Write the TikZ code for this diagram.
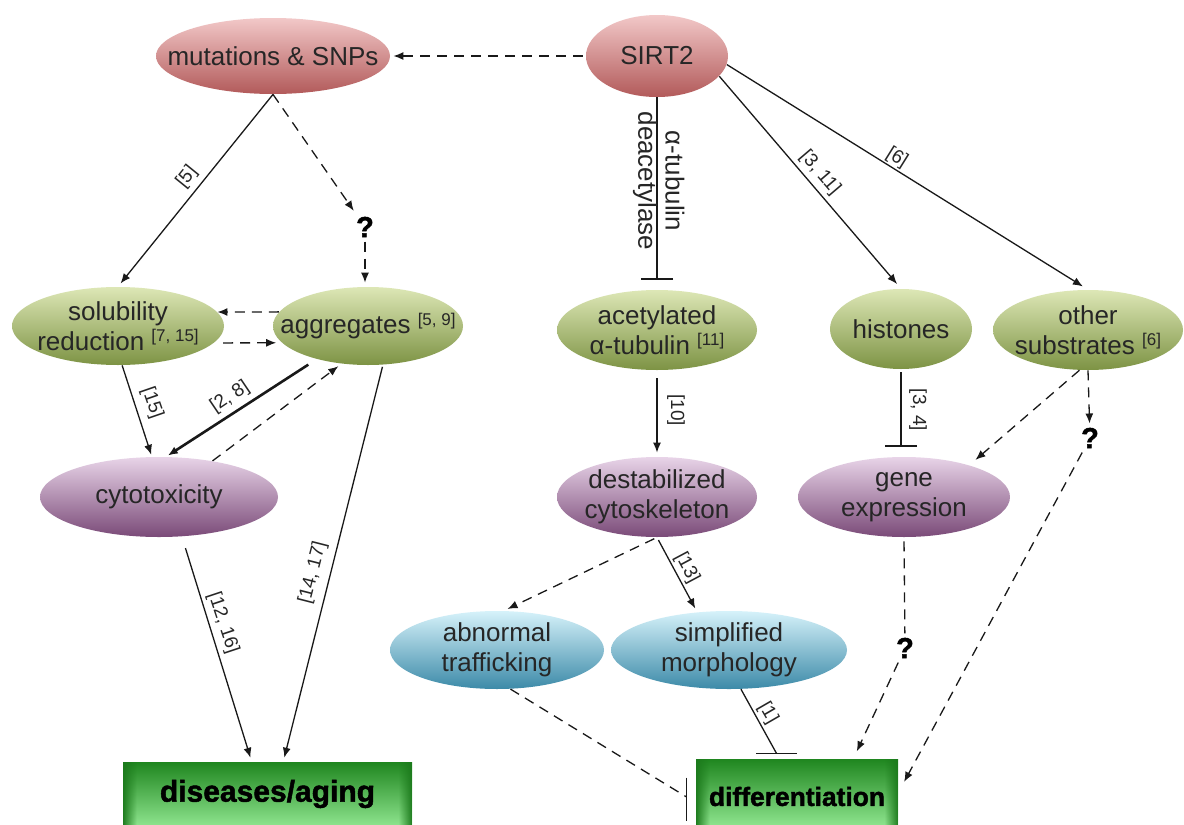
\documentclass[tikz,border=0pt]{standalone}
\usepackage{fontspec}
\setmainfont{Liberation Sans}
\newfontfamily\heavyfont{Liberation Sans Bold}[FakeBold=1.6]
\usetikzlibrary{shapes.geometric,arrows.meta,calc,fadings}
\definecolor{txt}{HTML}{262626}
\definecolor{rA}{HTML}{F2C8C8}\definecolor{rB}{HTML}{DC9494}\definecolor{rC}{HTML}{B25A5A}
\definecolor{gA}{HTML}{DDE7B6}\definecolor{gB}{HTML}{B5C87E}\definecolor{gC}{HTML}{7D9344}
\definecolor{pA}{HTML}{E8D4E8}\definecolor{pB}{HTML}{B892B6}\definecolor{pC}{HTML}{7A4A78}
\definecolor{bA}{HTML}{D6F2FA}\definecolor{bB}{HTML}{96D2E6}\definecolor{bC}{HTML}{3C8AA8}
\definecolor{xA}{HTML}{1F861F}\definecolor{xB}{HTML}{4CC84C}\definecolor{xC}{HTML}{8EE48E}
\definecolor{xE}{HTML}{1C7A1C}
\tikzfading[name=fadeR, left color=transparent!0, right color=transparent!100]
\tikzfading[name=fadeL, left color=transparent!100, right color=transparent!0]
\newcommand\mainsz{\fontsize{13}{15}\selectfont}
\newcommand\sref[1]{\raisebox{0.62ex}{\fontsize{8.5}{9}\selectfont[#1]}}
\begin{document}
\begin{tikzpicture}[x=0.5pt,y=-0.5pt,
  ell/.style={ellipse,draw=none,inner sep=0pt},
  ered/.style={ell,top color=rA,middle color=rB,bottom color=rC},
  egrn/.style={ell,top color=gA,middle color=gB,bottom color=gC},
  eprp/.style={ell,top color=pA,middle color=pB,bottom color=pC},
  eblu/.style={ell,top color=bA,middle color=bB,bottom color=bC},
  every label/.style={font=\mainsz,align=center,text=txt,inner sep=0pt},
  gbox/.style={rectangle,draw=none,top color=xA,middle color=xB,bottom color=xC,inner sep=0pt,text=black},
  lab/.style={font=\fontsize{9.5}{10}\selectfont,inner sep=0pt,text=txt},
  qst/.style={font=\fontsize{14.5}{15}\heavyfont,inner sep=2pt,text=black},
  ln/.style={line width=0.65pt,draw=black!90},
  arr/.style={ln,-{Latex[length=5pt,width=4pt]}},
  dsh/.style={dash pattern=on 5pt off 3.5pt},
  inh/.style={ln,-{Bar[width=16pt]}}
]
\useasboundingbox[fill=white] (0,0) rectangle (1184,825);

% nodes
\node[ered,minimum width=117pt,minimum height=38pt,label=center:mutations \& SNPs] (mut) at (273,56) {};
\node[ered,minimum width=71pt,minimum height=41pt,label=center:SIRT2] (sirt) at (657,56) {};
\node[egrn,minimum width=106pt,minimum height=39pt,label={center:solubility\\reduction \sref{7, 15}}] (sol) at (118,326) {};
\node[egrn,minimum width=95pt,minimum height=39pt,label={center:aggregates \sref{5, 9}}] (agg) at (368,326) {};
\node[egrn,minimum width=100pt,minimum height=40pt,label={center:acetylated\\α-tubulin \sref{11}}] (acet) at (657,330) {};
\node[egrn,minimum width=71pt,minimum height=40pt,label=center:histones] (hist) at (901,329) {};
\node[egrn,minimum width=95pt,minimum height=40pt,label={center:other\\substrates \sref{6}}] (other) at (1088,330) {};
\node[eprp,minimum width=119pt,minimum height=40pt,label=center:cytotoxicity] (cyto) at (159,497) {};
\node[eprp,minimum width=100pt,minimum height=40pt,label={center:destabilized\\cytoskeleton}] (destab) at (657,497) {};
\node[eprp,minimum width=106pt,minimum height=40pt,label={center:gene\\expression}] (gene) at (904,497) {};
\node[eblu,minimum width=107pt,minimum height=39pt,label={center:abnormal\\trafficking}] (abn) at (497,650) {};
\node[eblu,minimum width=118pt,minimum height=39pt,label={center:simplified\\morphology}] (simp) at (729,650) {};

\node[gbox,minimum width=144.5pt,minimum height=32pt] (dis) at (267.5,794) {};
\node[gbox,minimum width=101pt,minimum height=33.5pt] (diff) at (797,792.5) {};
\fill[xE,path fading=fadeR] (dis.north west) rectangle ($(dis.south west)+(14,0)$);
\fill[xE,path fading=fadeL] ($(dis.north east)+(-14,0)$) rectangle (dis.south east);
\fill[xE,path fading=fadeR] (diff.north west) rectangle ($(diff.south west)+(14,0)$);
\fill[xE,path fading=fadeL] ($(diff.north east)+(-14,0)$) rectangle (diff.south east);
\node[font=\fontsize{15}{16}\heavyfont,text=black,inner sep=0pt] (dist) at (dis) {diseases/aging};
\node[font=\fontsize{13.2}{14}\heavyfont,text=black,inner sep=0pt] (difft) at ($(diff)+(0,4)$) {differentiation};

\node[qst] (q1) at (365,227) {?};
\node[qst] (q2) at (1090,438) {?};
\node[qst] (q3) at (905,648) {?};

% SIRT2 edges
\draw[arr,dsh,shorten <=1.5pt,shorten >=1.5pt] (sirt) -- (mut);
\draw[inh,shorten >=5pt] (sirt.south) -- (acet.north);
\node[font=\mainsz,text=txt,rotate=-90,inner sep=0pt] (lt1) at (675,181) {α-tubulin};
\node[font=\mainsz,text=txt,rotate=-90,inner sep=0pt] (lt2) at (645,181) {deacetylase};
\draw[arr,shorten >=3pt] (sirt.-18) -- (hist.north);
\node[lab,rotate=-49.6] (l311) at (820,173) {[3, 11]};
\draw[arr,shorten >=3pt] (sirt.-7) -- (other.north);
\node[lab,rotate=-32] (l6) at (897,158) {[6]};

% mutations edges
\draw[arr,shorten >=2pt] (mut.south) -- (sol.north);
\node[lab,rotate=51] (l5) at (187,177) {[5]};
\draw[arr,dsh,shorten >=1pt] (mut.south) -- (q1);
\draw[arr,dsh,shorten >=2pt] (q1) -- (q1 |- agg.north);

% solubility / aggregates
\draw[arr,dsh] (agg.171) -- (sol.8);
\draw[arr,dsh,shorten <=4.5pt,shorten >=2.75pt] (sol.-10) -- (agg.191);
\draw[arr,shorten >=1pt] (sol.-84) -- (cyto.100);
\node[lab,rotate=-71] (l15) at (152,403) {[15]};
\draw[arr,line width=1.3pt,shorten <=5pt,shorten >=1pt] (agg) -- (cyto.80);
\node[lab,rotate=34] (l28) at (230,397) {[2, 8]};
\draw[arr,dsh,shorten >=2pt] (cyto.34) -- (agg.235);
\draw[arr,shorten <=6pt,shorten >=2pt] (cyto.-60) -- (dis.116);
\node[lab,rotate=-71.6] (l1216) at (223,623) {[12, 16]};
\draw[arr,shorten <=1pt,shorten >=2pt] (agg.-69) -- (dis.64);
\node[lab,rotate=75.7] (l1417) at (313,573) {[14, 17]};

% tubulin branch
\draw[arr,shorten <=4pt,shorten >=2pt] (acet.south) -- (destab.north);
\node[lab,rotate=-90] (l10) at (676,410) {[10]};
\draw[arr,dsh,shorten <=1.5pt,shorten >=2pt] (destab.south) -- (abn.80);
\draw[arr,shorten <=1.5pt,shorten >=2pt] (destab.south) -- (simp.130);
\node[lab,rotate=-62] (l13) at (687,568) {[13]};
\coordinate (bar1) at ($(diff.121)+(0,-5)$);
\draw[ln] (simp.-73) -- (bar1);
\draw[ln] ($(bar1)+(-20.5,0)$) -- ($(bar1)+(20.5,0)$);
\node[lab,rotate=-60] (l1) at (768,713) {[1]};
\coordinate (bar2) at ($(diff.west)+(-9,4.5)$);
\draw[ln,dsh] (abn.-71) -- (bar2);
\draw[ln] ($(diff.west)+(-9,-15)$) -- ($(diff.west)+(-9,28)$);

% histones / other
\draw[inh,shorten <=1.5pt,shorten >=5pt] (hist.south) -- (hist.south |- gene.north);
\node[lab,rotate=-90] (l34) at (918,410) {[3, 4]};
\draw[arr,dsh,shorten >=4pt] (other.258) -- (gene.26);
\draw[arr,dsh] (other.south) -- (q2);
\draw[arr,dsh,shorten >=6pt] (q2) -- (diff.east);
\draw[ln,dsh,shorten <=2pt] (gene.south) -- (q3);
\draw[arr,dsh,shorten >=4pt] (q3) -- (diff.31);
\end{tikzpicture}
\end{document}
